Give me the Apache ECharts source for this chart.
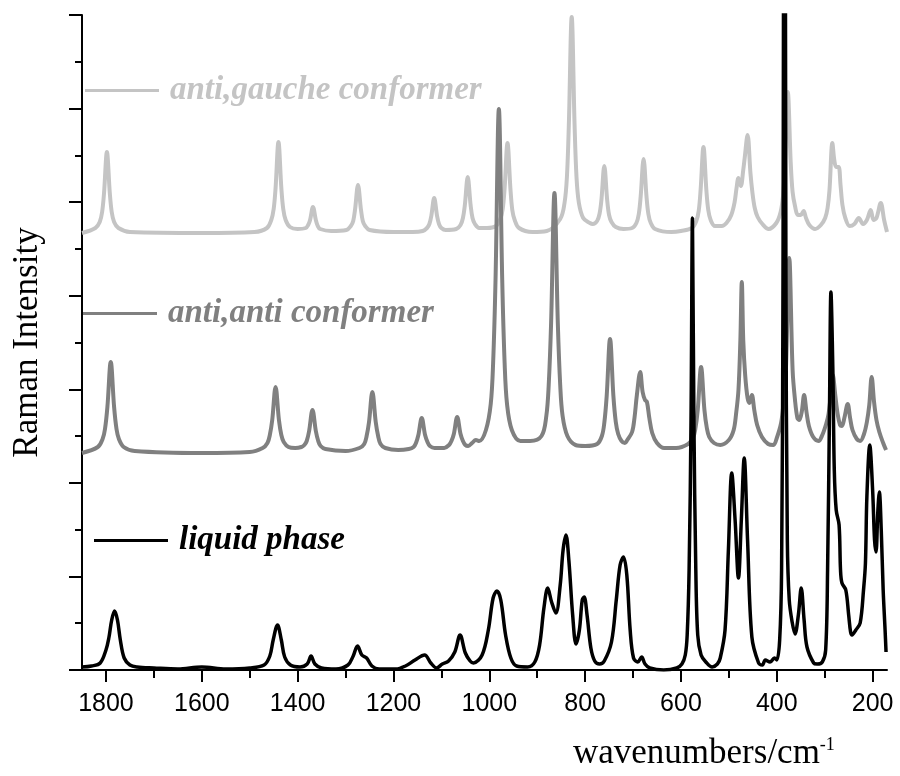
<!DOCTYPE html>
<html>
<head>
<meta charset="utf-8">
<script src="https://cdn.jsdelivr.net/npm/echarts@6/dist/echarts.min.js"></script>
<style>
  html, body { margin: 0; padding: 0; background: #fff; }
  #chart { width: 900px; height: 776px; }
</style>
</head>
<body>
<div id="chart"></div>
<script>
  // wavenumber axis (cm-1), drawn reversed
  const xMin = 170;
  const xMax = 1850;
  const xTicks = [1800, 1600, 1400, 1200, 1000, 800, 600, 400, 200];
  const xMinorTicks = [1700, 1500, 1300, 1100, 900, 700, 500, 300];
  // intensity, arbitrary units (spectra are offset vertically)
  const yMax = 655;
  const yTickCount = 7;

  const seriesNames = ['anti,gauche conformer', 'anti,anti conformer', 'liquid phase'];
  const seriesColors = ['#c4c4c4', '#808080', '#000000'];

  // [wavenumber, intensity]
  const antiGauche = [
    [1850,437],[1822,442],[1813,448],[1808,458],[1804,477],[1798,518],[1792,477],[1788,458],[1783,448],[1774,442],[1750,438],
    [1600,437],[1490,438],
    [1464,442],[1455,450],[1450,461],[1446,482],[1440,528],[1434,482],[1430,461],[1425,450],[1416,443],
    [1400,441],[1383,442],[1378,445],[1374,450],[1368,463],[1362,450],[1358,444],[1353,441],[1330,439],
    [1298,440],[1289,444],[1284,449],[1280,461],[1274,485],[1268,461],[1264,449],[1259,444],[1250,440],[1200,438],
    [1160,438],[1139,439],[1130,442],[1125,446],[1121,454],[1115,472],[1109,454],[1105,446],[1100,442],[1091,440],
    [1069,441],[1060,445],[1055,452],[1051,465],[1045,493],[1039,465],[1035,452],[1030,446],[1021,442],
    [1005,442],[986,444],[977,451],[972,461],[968,482],[962,527],[956,482],[952,460],[947,450],[938,442],[910,438],
    [880,439],[852,451],[843,467],[838,493],[834,545],[828,653],[822,545],[818,493],[813,467],[804,452],
    [790,447],[784,446],[775,449],[770,456],[766,470],[760,504],[754,470],[750,455],[745,448],[736,443],
    [720,441],[702,442],[693,447],[688,456],[684,474],[678,511],[672,474],[668,456],[663,447],[654,441],[620,438],
    [600,439],[577,442],[568,449],[563,459],[559,480],[553,523],[547,480],[543,460],[538,450],[529,444],
    [515,444],[505,447],[495,455],[488,468],[484,482],[480,492],[475,484],[470,500],[467,512],[461,535],[455,497],
    [451,478],[446,462],[440,453],[430,446],[417,441],
    [401,447],[392,458],[387,474],[383,508],[377,578],[371,508],[367,478],[362,464],[356,455],[350,455],[344,459],
    [339,452],[332,445],[320,441],
    [308,445],[299,452],[294,462],[290,480],[284,527],[280,510],[276,503],[271,503],[267,485],[263,465],[257,452],[248,444],
    [238,446],[229,452],[220,446],[212,450],[204,460],[198,450],[192,452],[183,467],[176,450],[170,438]
  ];

  const antiAnti = [
    [1850,217],[1817,223],[1807,231],[1802,241],[1797,263],[1790,308],[1783,263],[1778,241],[1773,231],[1763,223],[1740,219],
    [1600,217],[1500,218],
    [1473,222],[1463,227],[1458,235],[1453,250],[1446,283],[1439,250],[1434,235],[1429,228],[1419,223],
    [1405,222],[1392,223],[1386,225],[1381,229],[1376,239],[1369,260],[1362,239],[1357,229],[1352,224],[1342,221],
    [1300,219],[1271,222],[1261,226],[1256,234],[1251,248],[1244,278],[1237,248],[1232,234],[1227,226],[1217,222],
    [1190,220],[1168,221],[1158,223],[1153,227],[1148,235],[1141,252],[1134,235],[1129,228],[1124,224],[1114,222],
    [1094,222],[1084,225],[1079,229],[1074,236],[1067,253],[1060,236],[1055,229],[1050,225],[1044,224],[1036,227],
    [1028,230],[1021,229],
    [1007,240],[997,266],[992,307],[987,390],[980,561],[973,390],[968,307],[963,266],[953,240],[935,229],[915,229],
    [891,234],[881,254],[876,285],[871,347],[864,477],[857,347],[852,285],[847,254],[837,234],[820,225],[800,224],
    [775,226],[765,234],[760,247],[755,274],[748,331],[741,274],[736,248],[731,236],[724,229],[717,227],
    [712,230],[702,238],[697,252],[692,275],[685,298],[680,278],[675,270],[671,268],[666,252],[660,237],[650,227],
    [635,222],[610,222],
    [585,226],[575,232],[570,241],[565,260],[558,303],[551,260],[546,242],[541,233],[531,227],[518,225],
    [500,230],[490,240],[485,256],[480,280],[476,330],[473,388],[470,330],[466,295],[461,272],[457,267],[452,275],
    [447,260],[441,245],[431,233],[418,226],[407,225],
    [400,232],[391,247],[386,267],[381,300],[374,412],[367,300],[362,270],[357,252],[353,250],[348,258],[343,275],
    [338,258],[333,244],[324,233],[313,229],
    [305,235],[297,246],[292,256],[288,272],[283,295],[278,275],[273,256],[268,245],[264,244],[259,252],[252,266],
    [247,252],[242,240],[233,231],[226,229],
    [218,236],[212,248],[207,265],[202,293],[197,268],[192,250],[186,238],[178,227],[172,220]
  ];

  const liquidPhase = [
    [1850,3],[1830,4],[1812,7],[1800,20],[1794,32],[1788,50],[1782,59],[1776,50],[1770,30],[1762,12],[1750,5],
    [1735,3],[1700,2],[1650,1],[1600,3],[1550,1],[1500,2],
    [1470,5],[1458,14],[1451,30],[1442,45],[1434,30],[1427,13],[1415,5],[1395,3],
    [1380,6],[1372,14],[1364,6],[1350,2],[1320,1],
    [1295,5],[1284,14],[1275,24],[1266,15],[1256,12],[1245,4],[1230,1],[1195,1],
    [1175,4],[1155,10],[1135,15],[1122,7],[1110,2],[1098,6],[1085,9],[1072,18],[1061,35],[1050,17],[1040,9],[1033,7],
    [1015,15],[1002,40],[992,72],[984,79],[976,70],[966,35],[955,12],[943,4],[920,3],
    [905,8],[895,25],[886,62],[878,82],[870,68],[861,57],[852,85],[846,120],[840,135],[834,110],[826,55],[819,26],
    [812,40],[806,70],[802,73],[796,55],[788,22],[780,9],[770,6],[760,9],
    [745,28],[735,70],[727,105],[720,113],[713,95],[706,40],[699,12],[690,8],[682,13],[675,6],[665,2],[636,0],[609,2],
    [598,6],[591,15],[587,35],[583,100],[579,250],[576,452],[573,250],[569,100],[565,35],[558,15],[548,8],[535,3],
    [524,6],[518,12],[508,40],[501,120],[494,197],[487,150],[480,92],[474,150],[468,212],[461,130],[452,33],[438,7],
    [430,5],[424,10],[414,8],[405,12],[400,10],[394,30],[390,100],[387,400],[384,1300],[381,400],[378,130],
    [374,70],[368,48],[362,36],[355,55],[349,82],[343,50],[337,23],[323,7],[316,6],
    [305,8],[298,20],[294,100],[290,260],[287,378],[283,300],[280,200],[276,160],[270,145],[267,100],[264,87],
    [256,80],[250,55],[246,38],[243,35],[235,40],[226,47],[219,80],[215,107],[212,173],[206,225],
    [200,180],[196,130],[193,118],[189,160],[186,178],[182,140],[178,80],[174,40],[172,18]
  ];

  const chart = echarts.init(document.getElementById('chart'));

  const legendText = function (color) {
    return {
      fontFamily: 'Liberation Serif',
      fontStyle: 'italic',
      fontWeight: 'bold',
      fontSize: 33,
      color: color,
      padding: [0, 0, 0, 6]
    };
  };

  const option = {
    animation: false,
    backgroundColor: '#fff',
    grid: { left: 82, right: 13, top: 15, bottom: 106 },
    legend: [
      { data: [seriesNames[0]], left: 85, top: 74, textStyle: legendText(seriesColors[0]) },
      { data: [seriesNames[1]], left: 83, top: 297, textStyle: legendText(seriesColors[1]) },
      { data: [seriesNames[2]], left: 94, top: 524, textStyle: legendText(seriesColors[2]) }
    ].map(function (l) {
      return Object.assign({ icon: 'rect', itemWidth: 74, itemHeight: 3, padding: 0, selectedMode: false }, l);
    }),
    xAxis: [
      {
        type: 'value',
        inverse: true,
        min: xMin,
        max: xMax,
        position: 'bottom',
        axisLine: { show: true, onZero: false, lineStyle: { color: '#000', width: 2 } },
        axisTick: { show: true, length: 12, customValues: xTicks, lineStyle: { color: '#000', width: 2 } },
        axisLabel: {
          customValues: xTicks, margin: 22, color: '#000',
          fontFamily: 'Liberation Sans', fontSize: 25,
          formatter: function (v) { return String(v); }
        },
        splitLine: { show: false }
      },
      {
        type: 'value',
        inverse: true,
        min: xMin,
        max: xMax,
        position: 'bottom',
        axisLine: { show: false },
        axisTick: { show: true, length: 8, customValues: xMinorTicks, lineStyle: { color: '#000', width: 2 } },
        axisLabel: { show: false },
        splitLine: { show: false }
      }
    ],
    yAxis: {
      type: 'value',
      min: 0,
      max: yMax,
      interval: yMax / yTickCount,
      name: 'Raman Intensity',
      nameLocation: 'middle',
      nameGap: 37,
      nameTextStyle: { fontFamily: 'Liberation Serif', fontSize: 35, color: '#000' },
      axisLine: { show: true, onZero: false, lineStyle: { color: '#000', width: 2 } },
      axisTick: { show: true, length: 13, lineStyle: { color: '#000', width: 2 } },
      minorTick: { show: true, splitNumber: 2, length: 7, lineStyle: { color: '#000', width: 2 } },
      axisLabel: { show: false },
      splitLine: { show: false },
      minorSplitLine: { show: false }
    },
    graphic: [{
      type: 'text',
      left: 573,
      top: 736,
      style: {
        text: '{a|wavenumbers/cm}{b|-1}',
        rich: {
          a: { fontFamily: 'Liberation Serif', fontSize: 35, lineHeight: 35, color: '#000' },
          b: { fontFamily: 'Liberation Serif', fontSize: 18, lineHeight: 35, verticalAlign: 'top', color: '#000' }
        }
      }
    }],
    series: [
      { name: seriesNames[0], data: antiGauche, color: seriesColors[0], lineStyle: { width: 4 } },
      { name: seriesNames[1], data: antiAnti, color: seriesColors[1], lineStyle: { width: 4 } },
      { name: seriesNames[2], data: liquidPhase, color: seriesColors[2], lineStyle: { width: 3.5 } }
    ].map(function (s) {
      return Object.assign({
        type: 'line',
        showSymbol: false,
        smooth: 0.35,
        clip: true
      }, s);
    })
  };

  chart.setOption(option);
</script>
</body>
</html>
